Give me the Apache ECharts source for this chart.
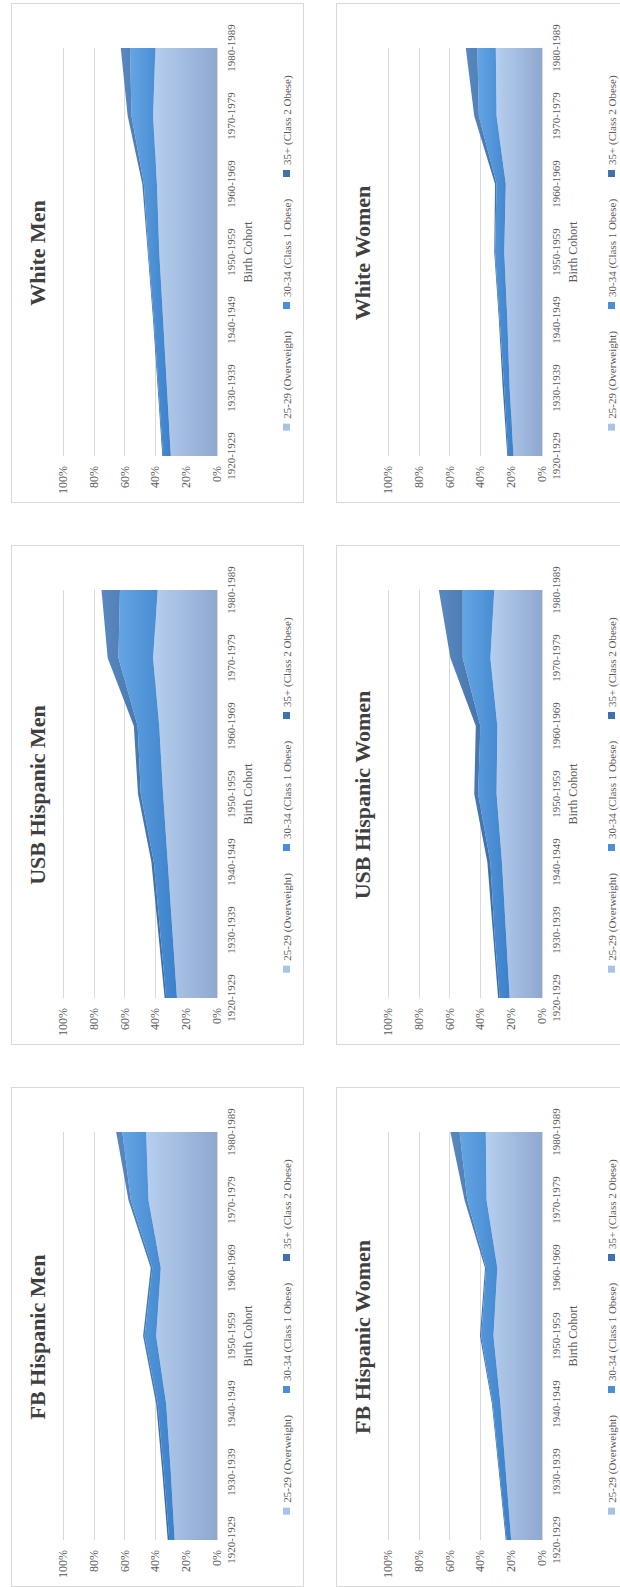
<!DOCTYPE html>
<html>
<head>
<meta charset="utf-8">
<script src="https://cdn.jsdelivr.net/npm/echarts@6/dist/echarts.min.js"></script>
<style>
  html, body { margin: 0; padding: 0; background: #fff; width: 620px; height: 1587px; overflow: hidden; }
  /* the sheet is laid out landscape and turned a quarter turn to the left */
  #sheet { position: absolute; left: 0; top: 1587px; width: 1587px; height: 620px;
           transform-origin: 0 0; transform: rotate(-90deg); }
  .panel { position: absolute; width: 500px; height: 293px; }
  .panel .chart { position: absolute; left: 0; top: 0; width: 500px; height: 293px; }
  .panel .frame { position: absolute; left: 0; top: 0; width: 500px; height: 293px;
                  border: 1px solid #d9d9d9; box-sizing: border-box; pointer-events: none; }
</style>
</head>
<body>
<div id="sheet"></div>
<script>
// Birth cohorts on the category axis
const cohorts = ['1920-1929', '1930-1939', '1940-1949', '1950-1959', '1960-1969', '1970-1979', '1980-1989'];
const seriesNames = ['25-29 (Overweight)', '30-34 (Class 1 Obese)', '35+ (Class 2 Obese)'];

// Share (%) of each BMI band by cohort, stacked bottom to top
const fbMenOverweight   = [27.5, 30, 33, 39.5, 36.5, 44.5, 46];
const fbMenClass1       = [3.5, 4.5, 5.5, 7.5, 5.5, 11.5, 15.5];
const fbMenClass2       = [1, 1, 1, 1, 1, 1.5, 4];

const usbMenOverweight  = [26, 29, 32, 35, 37.5, 41.5, 38.5];
const usbMenClass1      = [7, 8, 9, 14.5, 14, 22.5, 24.5];
const usbMenClass2      = [1, 1.3, 1.6, 1.8, 2.5, 7, 12];

const whiteMenOverweight = [30, 32.5, 35, 37.5, 39, 41.5, 40];
const whiteMenClass1     = [5, 5.5, 6, 7, 8.5, 14, 16.5];
const whiteMenClass2     = [0.5, 0.5, 0.5, 0.5, 1, 2.5, 6];

const fbWomenOverweight = [20, 23.5, 27, 31.5, 29, 36, 36.5];
const fbWomenClass1     = [3, 4, 5, 8, 7.3, 12.5, 17];
const fbWomenClass2     = [0.5, 0.5, 0.5, 0.8, 0.7, 1.8, 6];

const usbWomenOverweight = [21, 23.5, 26, 29.5, 29, 33.5, 31];
const usbWomenClass1     = [6.5, 7.5, 7.5, 12, 11, 18, 20.5];
const usbWomenClass2     = [1, 1, 2, 2.5, 3, 8, 15.5];

const whiteWomenOverweight = [18.5, 21, 22.5, 24.5, 23.5, 29.5, 30];
const whiteWomenClass1     = [3.5, 3.5, 5, 6, 6, 11.5, 12];
const whiteWomenClass2     = [0.5, 1, 0.5, 0.5, 1, 3, 7.5];

const FONT = "'Liberation Serif', 'Times New Roman', serif";
const AXIS_TEXT = '#595959';
const GRID_LINE = '#d9d9d9';

// solid colour for legend keys, gradient stops for the filled bands
const bandStyles = [
  { key: '#a9c3e6', top: '#b6cfef', bottom: '#8ea8d0' },
  { key: '#4a90d9', top: '#64a5e4', bottom: '#3b80ca' },
  { key: '#3f72ad', top: '#5a89c0', bottom: '#3c6ca6' }
];

const panels = [
  { title: 'FB Hispanic Men',    col: 0, row: 0, bands: [fbMenOverweight, fbMenClass1, fbMenClass2] },
  { title: 'USB Hispanic Men',   col: 1, row: 0, bands: [usbMenOverweight, usbMenClass1, usbMenClass2] },
  { title: 'White Men',          col: 2, row: 0, bands: [whiteMenOverweight, whiteMenClass1, whiteMenClass2] },
  { title: 'FB Hispanic Women',  col: 0, row: 1, bands: [fbWomenOverweight, fbWomenClass1, fbWomenClass2] },
  { title: 'USB Hispanic Women', col: 1, row: 1, bands: [usbWomenOverweight, usbWomenClass1, usbWomenClass2] },
  { title: 'White Women',        col: 2, row: 1, bands: [whiteWomenOverweight, whiteWomenClass1, whiteWomenClass2] }
];

function panelOption(p) {
  return {
    animation: false,
    textStyle: { fontFamily: FONT },
    title: {
      text: p.title, left: 'center', top: 10,
      textStyle: { fontFamily: FONT, fontSize: 22, fontWeight: 'bold', color: '#404040' }
    },
    legend: {
      data: seriesNames, left: 'center', top: 265,
      icon: 'rect', itemWidth: 7, itemHeight: 7, itemGap: 22,
      textStyle: { fontFamily: FONT, fontSize: 11, color: AXIS_TEXT }
    },
    grid: { left: 47, right: 45, top: 52, bottom: 87 },
    xAxis: {
      type: 'category', data: cohorts, boundaryGap: false,
      axisLine: { lineStyle: { color: GRID_LINE } },
      axisTick: { show: false },
      axisLabel: { interval: 0, margin: 8, fontFamily: FONT, fontSize: 11, color: AXIS_TEXT },
      name: 'Birth Cohort', nameLocation: 'middle', nameGap: 25,
      nameTextStyle: { fontFamily: FONT, fontSize: 12, color: AXIS_TEXT }
    },
    yAxis: {
      type: 'value', min: 0, max: 100, interval: 20,
      axisLine: { show: false }, axisTick: { show: false },
      axisLabel: { formatter: '{value}%', margin: 10, fontFamily: FONT, fontSize: 12, color: AXIS_TEXT },
      splitLine: { lineStyle: { color: GRID_LINE, width: 1 } }
    },
    series: p.bands.map((vals, i) => ({
      name: seriesNames[i],
      type: 'line',
      stack: 'bmi',
      data: vals,
      symbol: 'none',
      smooth: false,
      lineStyle: { width: 0 },
      itemStyle: { color: bandStyles[i].key },
      areaStyle: {
        opacity: 1,
        color: {
          type: 'linear', x: 0, y: 0, x2: 0, y2: 1,
          colorStops: [
            { offset: 0, color: bandStyles[i].top },
            { offset: 1, color: bandStyles[i].bottom }
          ]
        }
      },
      emphasis: { disabled: true },
      z: 2 + i
    }))
  };
}

const sheet = document.getElementById('sheet');
panels.forEach(p => {
  const box = document.createElement('div');
  box.className = 'panel';
  box.style.left = (p.col * 542) + 'px';
  box.style.top = (p.row === 0 ? 11 : 336) + 'px';
  const chartEl = document.createElement('div');
  chartEl.className = 'chart';
  const frame = document.createElement('div');
  frame.className = 'frame';
  box.appendChild(chartEl);
  box.appendChild(frame);
  sheet.appendChild(box);
  const chart = echarts.init(chartEl, null, { renderer: 'svg', width: 500, height: 293 });
  chart.setOption(panelOption(p));
});
</script>
</body>
</html>
